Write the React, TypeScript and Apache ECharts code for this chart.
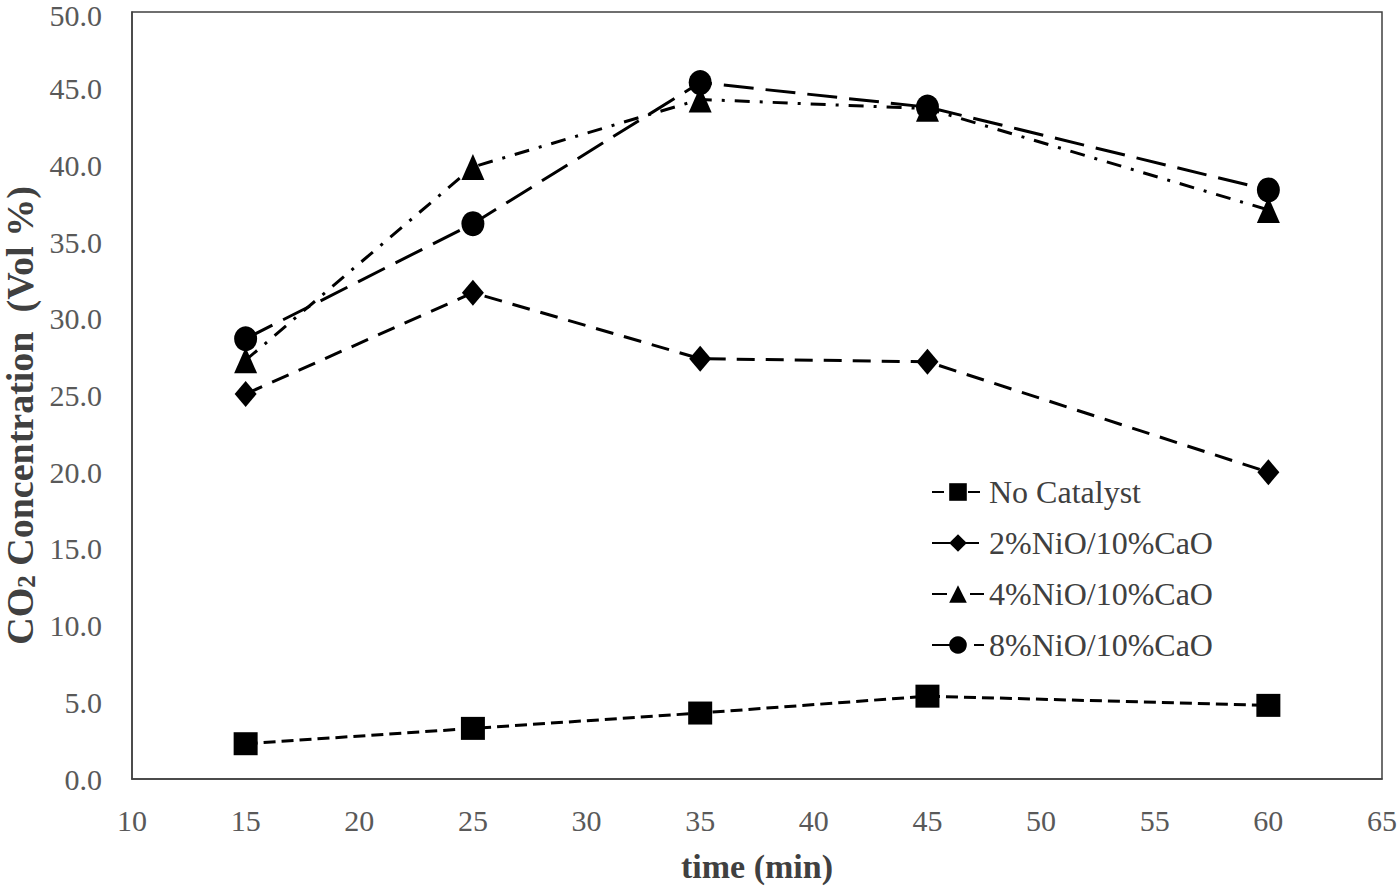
import React, { useEffect, useRef } from "react";
import * as echarts from "echarts";

const times = [15, 25, 35, 45, 60];
const noCatalyst = [2.3, 3.3, 4.3, 5.4, 4.8];
const nio2 = [25.1, 31.7, 27.4, 27.2, 20.0];
const nio4 = [27.3, 39.9, 44.3, 43.7, 37.1];
const nio8 = [28.7, 36.2, 45.4, 43.8, 38.4];
const seriesNames = ["No Catalyst", "2%NiO/10%CaO", "4%NiO/10%CaO", "8%NiO/10%CaO"];

const FONT = "'Liberation Serif', 'Times New Roman', serif";

export default function App() {
  const ref = useRef<HTMLDivElement>(null);
  useEffect(() => {
    if (!ref.current) return;
    const chart = echarts.init(ref.current, undefined, { renderer: "svg" });
    const pair = (vals: number[]) => times.map((t, i) => [t, vals[i]]);
    const base = (name: string, vals: number[], symbol: string, size: any, dash: number[]) => ({
      name,
      type: "line",
      data: pair(vals),
      symbol,
      symbolSize: size,
      itemStyle: { color: "#000" },
      lineStyle: { color: "#000", width: 3, type: dash },
      z: 3,
    });
    chart.setOption({
      animation: false,
      backgroundColor: "#fff",
      textStyle: { fontFamily: FONT },
      grid: {
        left: 132,
        right: 18,
        top: 12,
        bottom: 109,
        show: true,
        borderColor: "#404040",
        borderWidth: 1.5,
        outerBoundsMode: "none",
        containLabel: false,
      },
      legend: {
        orient: "vertical",
        left: 926,
        top: 471,
        itemWidth: 52,
        itemHeight: 22,
        itemGap: 19,
        data: seriesNames,
        textStyle: { fontFamily: FONT, fontSize: 32, color: "#404040", lineHeight: 32 },
      },
      xAxis: {
        type: "value",
        min: 10,
        max: 65,
        interval: 5,
        name: "time (min)",
        nameLocation: "middle",
        nameGap: 70,
        nameTextStyle: { fontFamily: FONT, fontSize: 34, fontWeight: "bold", color: "#404040" },
        axisLine: { show: true, lineStyle: { color: "#404040", width: 1.5 } },
        axisTick: { show: false },
        splitLine: { show: false },
        axisLabel: { fontFamily: FONT, fontSize: 30, color: "#595959", margin: 26 },
      },
      yAxis: {
        type: "value",
        min: 0,
        max: 50,
        interval: 5,
        name: "{a|CO}{s|2}{a| Concentration  (Vol %)}",
        nameLocation: "middle",
        nameGap: 84,
        nameTextStyle: {
          fontFamily: FONT,
          fontWeight: "bold",
          color: "#404040",
          padding: [0, 40, 0, 0],
          rich: {
            a: { fontFamily: FONT, fontWeight: "bold", fontSize: 38, color: "#404040", lineHeight: 38 },
            s: { fontFamily: FONT, fontWeight: "bold", fontSize: 25, color: "#404040", lineHeight: 20, verticalAlign: "bottom" },
          },
        },
        axisLine: { show: true, lineStyle: { color: "#404040", width: 1.5 } },
        axisTick: { show: false },
        splitLine: { show: false },
        axisLabel: {
          fontFamily: FONT,
          fontSize: 30,
          lineHeight: 22,
          color: "#595959",
          margin: 30,
          formatter: (v: number) => (v === 50 ? "{t|" + v.toFixed(1) + "}" : v.toFixed(1)),
          rich: {
            t: { fontFamily: FONT, fontSize: 30, lineHeight: 22, color: "#595959", padding: [6, 0, 0, 0] },
          },
        },
      },
      series: [
        base(seriesNames[0], noCatalyst, "rect", [24, 23], [12, 6]),
        base(seriesNames[1], nio2, "diamond", [22, 26], [18, 11]),
        base(seriesNames[2], nio4, "triangle", [23, 26], [15, 10, 3, 10]),
        base(seriesNames[3], nio8, "circle", [23, 25], [30, 12]),
      ],
    });
    return () => chart.dispose();
  }, []);
  return (
    <div
      ref={ref}
      style={{ position: "fixed", left: 0, top: 0, width: 1400, height: 888, background: "#fff" }}
    />
  );
}
